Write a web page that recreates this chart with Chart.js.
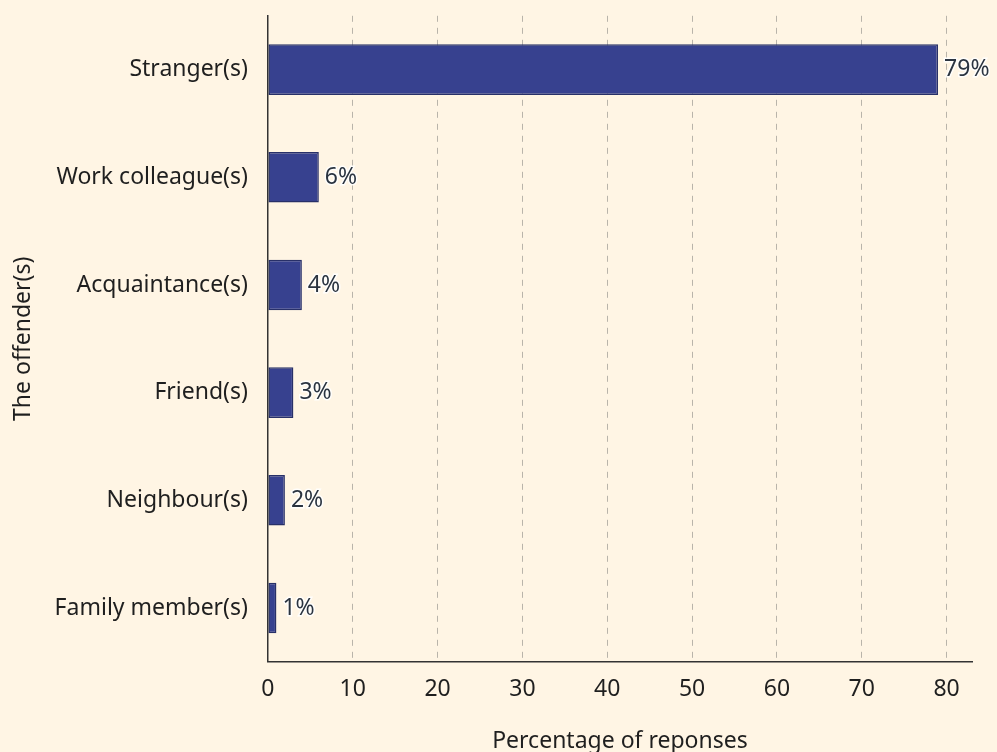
<!DOCTYPE html>
<html>
<head>
<meta charset="utf-8">
<script src="https://cdn.jsdelivr.net/npm/chart.js@4"></script>
<style>
html,body{margin:0;padding:0;background:#fff5e4;overflow:hidden;}
#chart{display:block;margin-top:-10px;}
</style>
</head>
<body>
<canvas id="chart" width="997" height="765"></canvas>
<script>
// who the offender was, share of responses (%)
const categories = ['Stranger(s)','Work colleague(s)','Acquaintance(s)','Friend(s)','Neighbour(s)','Family member(s)'];
const shares = [79, 6, 4, 3, 2, 1];
const xTicks = [0,10,20,30,40,50,60,70,80];

const FONT = "'Noto Sans', 'Open Sans', sans-serif";
const INK = '#1f1f1f';
const FS = 23;

// writes "79%" etc. just past the end of each bar
const valueLabels = {
  id:'valueLabels',
  afterDatasetsDraw(chart){
    const ctx = chart.ctx, meta = chart.getDatasetMeta(0);
    ctx.save();
    ctx.font = FS + 'px ' + FONT;
    ctx.textBaseline = 'middle';
    ctx.textAlign = 'left';
    meta.data.forEach((bar,i)=>{
      const x = bar.x + 6, y = bar.y;
      const txt = shares[i] + '%';
      ctx.lineWidth = 3; ctx.strokeStyle = 'rgba(255,255,255,0.85)';
      ctx.strokeText(txt,x,y);
      ctx.fillStyle = '#2b3440';
      ctx.fillText(txt,x,y);
    });
    ctx.restore();
  }
};

new Chart(document.getElementById('chart'), {
  type:'bar',
  data:{ labels:categories, datasets:[{ data:shares, backgroundColor:'#37418f', borderColor:'#283068', borderWidth:1.5, borderSkipped:false, barPercentage:0.47, categoryPercentage:1 }] },
  options:{
    indexAxis:'y', responsive:false, animation:false,
    layout:{ padding:{ top:-25, right:25, left:10, bottom:0 } },
    plugins:{ legend:{display:false}, tooltip:{enabled:false} },
    scales:{
      x:{
        min:0, max:83,
        afterBuildTicks:(s)=>{ s.ticks = xTicks.map(v=>({value:v})); },
        border:{ display:true, color:'#333', width:1.5, dash:[6,6] },
        grid:{ color:'#b9b4aa', lineWidth:1, drawTicks:false },
        ticks:{ color:INK, font:{family:FONT,size:FS}, padding:14 },
        title:{ display:true, text:'Percentage of reponses', color:INK, font:{family:FONT,size:FS}, padding:{top:10,bottom:0} }
      },
      y:{
        border:{ display:true, color:'#333', width:1.5 },
        grid:{ display:false },
        ticks:{ color:INK, font:{family:FONT,size:FS}, padding:12 },
        title:{ display:true, text:'The offender(s)', color:INK, font:{family:FONT,size:FS}, padding:{top:0,bottom:5} }
      }
    }
  },
  plugins:[valueLabels]
});
</script>
</body>
</html>
